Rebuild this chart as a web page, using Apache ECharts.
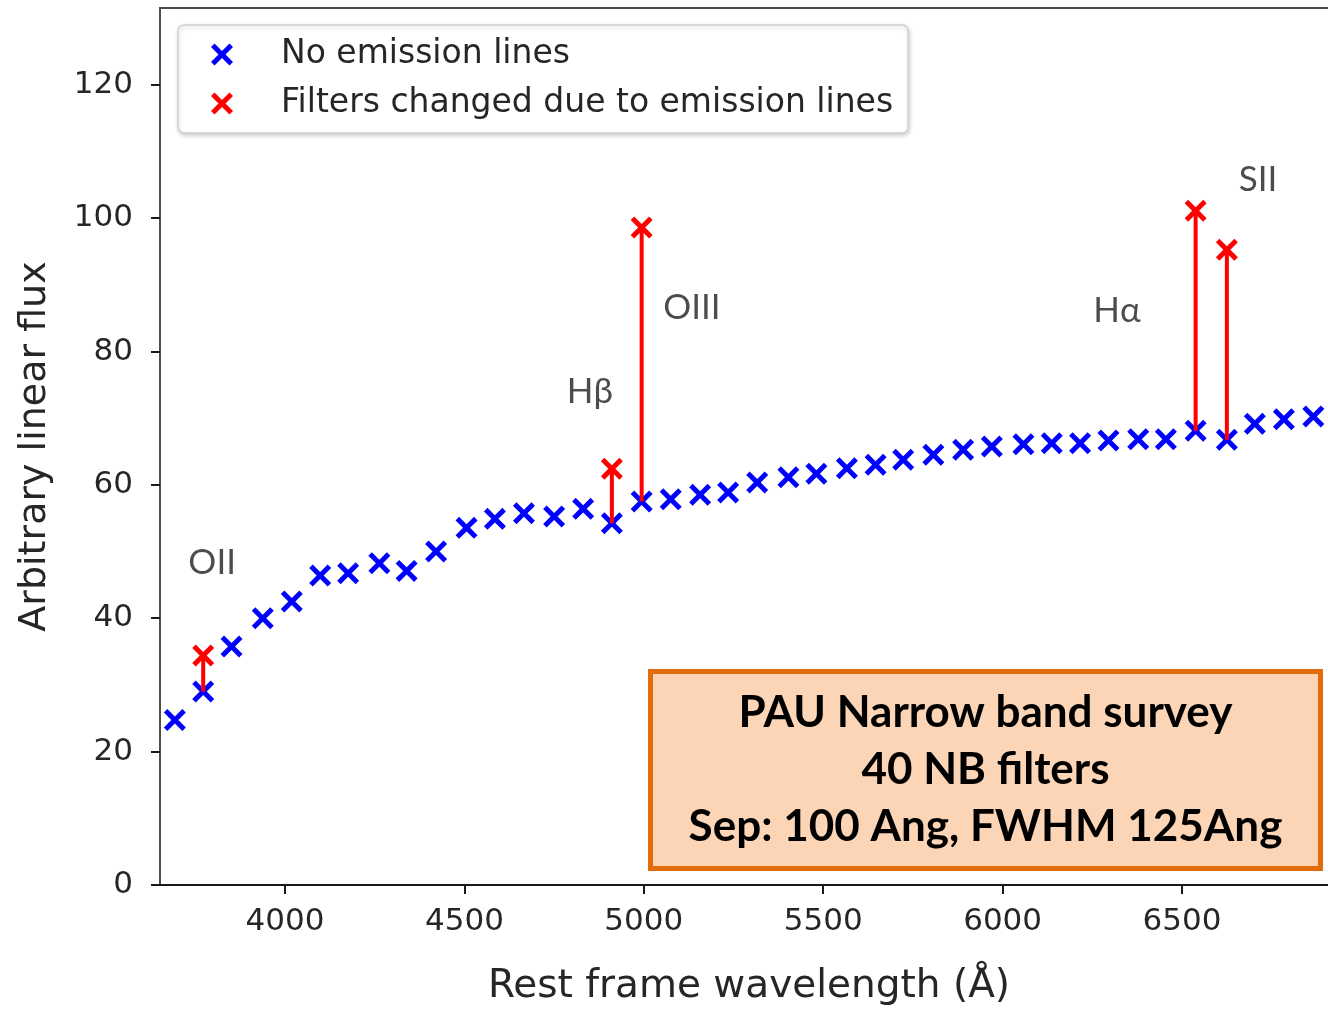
<!DOCTYPE html>
<html>
<head>
<meta charset="utf-8">
<script src="https://cdn.jsdelivr.net/npm/echarts@6/dist/echarts.min.js"></script>
<style>
  html, body { margin: 0; padding: 0; background: #ffffff; overflow: hidden; }
  #chart { width: 1328px; height: 1009px; }
</style>
</head>
<body>
<div id="chart"></div>
<script>
// Rest-frame central wavelength of each of the 40 narrow-band filters (Å)
const wavelength = [
  3693, 3772, 3851, 3938, 4019, 4098, 4176, 4263, 4339, 4421,
  4506, 4585, 4666, 4750, 4831, 4911, 4994, 5075, 5157, 5235,
  5316, 5403, 5481, 5566, 5646, 5723, 5807, 5890, 5970, 6058,
  6137, 6216, 6295, 6378, 6455, 6538, 6625, 6703, 6784, 6866
];
// Continuum flux seen in each filter (no emission lines)
const continuumFlux = [
  24.75, 29.0, 35.75, 40.0, 42.5, 46.4, 46.75, 48.25, 47.1, 50.0,
  53.55, 54.9, 55.75, 55.25, 56.4, 54.25, 57.5, 57.85, 58.5, 58.85,
  60.35, 61.15, 61.65, 62.5, 63.0, 63.75, 64.5, 65.25, 65.75, 66.1,
  66.25, 66.25, 66.65, 66.85, 66.85, 68.1, 66.75, 69.15, 69.85, 70.25
];
// Filters whose flux is boosted by an emission line
const emissionFilterIndex = [1, 15, 16, 35, 36];
const emissionFlux = [34.4, 62.4, 98.6, 101.1, 95.25];

// Emission line names and where they are written
const lineNames = ['OII', 'Hβ', 'OIII', 'Hα', 'SII'];
const lineLabelWavelength = [3797, 4850, 5134, 6319, 6712];
const lineLabelFlux = [48.3, 74.0, 86.6, 86.1, 105.75];

const xTicks = [4000, 4500, 5000, 5500, 6000, 6500];
const yTicks = [0, 20, 40, 60, 80, 100, 120];

const seriesNames = ['No emission lines', 'Filters changed due to emission lines'];

// Filled "x" marker outline
const crossPath = 'path://M0,1.6L1.6,0L5,3.4L8.4,0L10,1.6L6.6,5L10,8.4L8.4,10L5,6.6L1.6,10L0,8.4L3.4,5Z';

const continuumData = wavelength.map((w, i) => [w, continuumFlux[i]]);
const emissionData = emissionFilterIndex.map((idx, k) => [wavelength[idx], emissionFlux[k]]);
const jumpData = emissionFilterIndex.map((idx, k) => [wavelength[idx], continuumFlux[idx], emissionFlux[k]]);
const labelData = lineNames.map((n, i) => ({ name: n, value: [lineLabelWavelength[i], lineLabelFlux[i]] }));

const tickFont = { fontFamily: 'DejaVu Sans', fontSize: 31, color: '#262626' };
const plainNumber = v => String(v);

const chart = echarts.init(document.getElementById('chart'), null, { renderer: 'canvas' });
chart.setOption({
  animation: false,
  backgroundColor: '#ffffff',
  grid: {
    left: 160, top: 8, width: 1190, height: 877,
    outerBoundsMode: 'none',
    containLabel: false,
    show: true, borderColor: '#4d4d4d', borderWidth: 2, backgroundColor: 'transparent'
  },
  xAxis: {
    type: 'value',
    min: 3651.6, max: 6968.2,
    name: 'Rest frame wavelength (Å)',
    nameLocation: 'middle',
    nameGap: 82,
    nameTextStyle: { fontFamily: 'DejaVu Sans', fontSize: 39, color: '#262626', padding: [0, 12, 0, 0] },
    axisLine: { show: true, lineStyle: { color: '#1a1a1a', width: 2 } },
    axisTick: { show: true, length: 9, lineStyle: { color: '#1a1a1a', width: 2 }, customValues: xTicks },
    axisLabel: Object.assign({ margin: 21, customValues: xTicks, formatter: plainNumber }, tickFont),
    splitLine: { show: false }
  },
  yAxis: {
    type: 'value',
    min: 0, max: 131.5,
    name: 'Arbitrary linear flux',
    nameLocation: 'middle',
    nameGap: 106,
    nameTextStyle: { fontFamily: 'DejaVu Sans', fontSize: 38, color: '#262626' },
    axisLine: { show: true, lineStyle: { color: '#4d4d4d', width: 2 } },
    axisTick: { show: true, length: 9, lineStyle: { color: '#1a1a1a', width: 2 }, customValues: yTicks },
    axisLabel: Object.assign({ margin: 27, customValues: yTicks, formatter: plainNumber }, tickFont),
    splitLine: { show: false }
  },
  legend: {
    left: 178, top: 25,
    orient: 'vertical',
    data: [
      { name: seriesNames[0], icon: crossPath, itemStyle: { color: '#0000ff' } },
      { name: seriesNames[1], icon: crossPath, itemStyle: { color: '#ff0000' } }
    ],
    itemWidth: 22, itemHeight: 22, itemGap: 16,
    padding: [13, 15, 13, 33],
    backgroundColor: '#ffffff',
    borderColor: '#d0d0d0', borderWidth: 1.5, borderRadius: 6,
    shadowColor: 'rgba(0,0,0,0.18)', shadowBlur: 4, shadowOffsetX: 1, shadowOffsetY: 2,
    textStyle: { fontFamily: 'DejaVu Sans', fontSize: 33, color: '#262626', padding: [0, 0, 0, 43] },
    selectedMode: false
  },
  series: [
    {
      name: seriesNames[0],
      type: 'scatter',
      symbol: crossPath,
      symbolSize: 22,
      itemStyle: { color: '#0000ff', opacity: 1 },
      data: continuumData,
      z: 2
    },
    {
      name: 'jumps',
      type: 'custom',
      renderItem: function (params, api) {
        const p0 = api.coord([api.value(0), api.value(1)]);
        const p1 = api.coord([api.value(0), api.value(2)]);
        return {
          type: 'line',
          shape: { x1: p0[0], y1: p0[1], x2: p1[0], y2: p1[1] },
          style: { stroke: '#ff0000', lineWidth: 4 }
        };
      },
      data: jumpData,
      z: 3
    },
    {
      name: seriesNames[1],
      type: 'scatter',
      symbol: crossPath,
      symbolSize: 22,
      itemStyle: { color: '#ff0000', opacity: 1 },
      data: emissionData,
      z: 4
    },
    {
      name: 'line names',
      type: 'scatter',
      symbolSize: 0,
      silent: true,
      data: labelData,
      label: {
        show: true,
        position: 'inside',
        formatter: '{b}',
        fontFamily: 'Lato',
        fontSize: 35,
        color: '#1f1f1f'
      },
      z: 5
    }
  ],
  graphic: [
    {
      type: 'group',
      left: 648, top: 669,
      children: [
        {
          type: 'rect',
          shape: { x: 0, y: 0, width: 670, height: 197 },
          style: { fill: '#fbd5b5', stroke: '#e36c0a', lineWidth: 5 }
        },
        {
          type: 'text',
          x: 335, y: 98,
          style: {
            text: 'PAU Narrow band survey\n40 NB filters\nSep: 100 Ang, FWHM 125Ang',
            fontFamily: 'Lato', fontWeight: 'bold', fontSize: 44,
            lineHeight: 57,
            fill: '#000000',
            align: 'center', verticalAlign: 'middle'
          }
        }
      ]
    }
  ]
});
</script>
</body>
</html>
